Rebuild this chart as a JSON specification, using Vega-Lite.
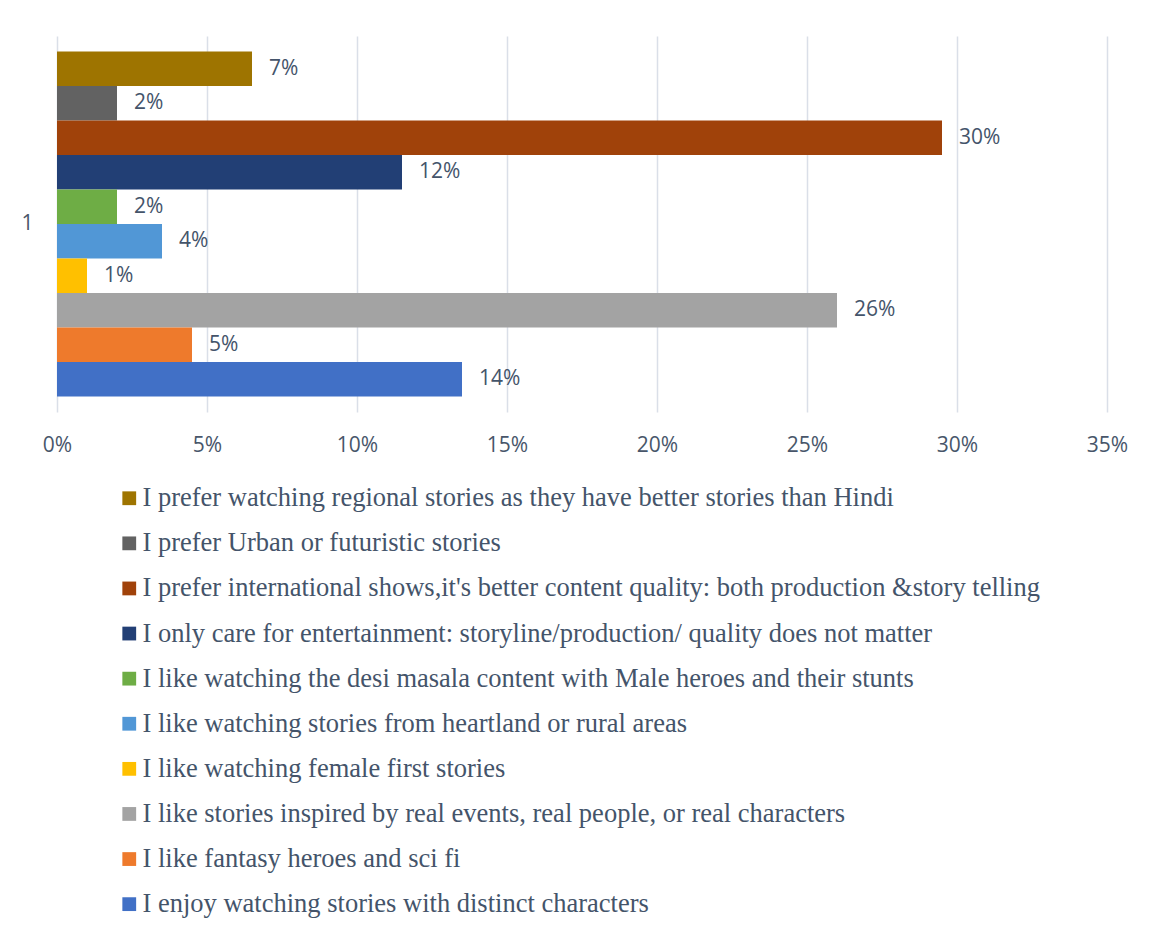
{
  "$schema": "https://vega.github.io/schema/vega-lite/v6.json",
  "width": 1050,
  "height": 376,
  "autosize": {"type": "none"},
  "padding": {"left": 57, "top": 36, "right": 47, "bottom": 525},
  "background": "white",
  "config": {
    "view": {"stroke": null},
    "font": "Open Sans"
  },
  "data": {
    "values": [
      {"group": "1", "reason": "I prefer watching regional stories as they have better stories than Hindi", "share": 0.065, "label": "7%"},
      {"group": "1", "reason": "I prefer Urban or futuristic stories", "share": 0.02, "label": "2%"},
      {"group": "1", "reason": "I prefer international shows,it's  better content quality: both production &story telling", "share": 0.295, "label": "30%"},
      {"group": "1", "reason": "I only care for entertainment: storyline/production/ quality does not matter", "share": 0.115, "label": "12%"},
      {"group": "1", "reason": "I like watching the desi masala content with Male heroes and their stunts", "share": 0.02, "label": "2%"},
      {"group": "1", "reason": "I like watching stories from heartland or rural areas", "share": 0.035, "label": "4%"},
      {"group": "1", "reason": "I like watching female first stories", "share": 0.01, "label": "1%"},
      {"group": "1", "reason": "I like stories inspired by real events, real people, or real characters", "share": 0.26, "label": "26%"},
      {"group": "1", "reason": "I like fantasy heroes and sci fi", "share": 0.045, "label": "5%"},
      {"group": "1", "reason": "I enjoy watching stories with distinct characters", "share": 0.135, "label": "14%"}
    ]
  },
  "encoding": {
    "y": {
      "field": "group",
      "type": "nominal",
      "scale": {"paddingOuter": 0.045, "paddingInner": 0},
      "axis": {
        "title": null,
        "domain": false,
        "ticks": false,
        "grid": false,
        "labelPadding": 24,
        "labelFontSize": 21,
        "labelFont": "Open Sans",
        "labelColor": "#48566A"
      }
    },
    "yOffset": {
      "field": "reason",
      "type": "nominal",
      "scale": {
        "domain": [
          "I prefer watching regional stories as they have better stories than Hindi",
          "I prefer Urban or futuristic stories",
          "I prefer international shows,it's  better content quality: both production &story telling",
          "I only care for entertainment: storyline/production/ quality does not matter",
          "I like watching the desi masala content with Male heroes and their stunts",
          "I like watching stories from heartland or rural areas",
          "I like watching female first stories",
          "I like stories inspired by real events, real people, or real characters",
          "I like fantasy heroes and sci fi",
          "I enjoy watching stories with distinct characters"
        ],
        "paddingInner": 0,
        "paddingOuter": 0
      }
    },
    "x": {
      "field": "share",
      "type": "quantitative",
      "scale": {"domain": [0, 0.35], "nice": false},
      "axis": {
        "title": null,
        "format": ".0%",
        "values": [0, 0.05, 0.1, 0.15, 0.2, 0.25, 0.3, 0.35],
        "domain": false,
        "ticks": false,
        "grid": true,
        "gridColor": "#DADFE8",
        "gridWidth": 1.5,
        "labelFlush": false,
        "labelPadding": 22,
        "labelFontSize": 21,
        "labelFont": "Open Sans",
        "labelColor": "#48566A"
      }
    }
  },
  "layer": [
    {
      "mark": {"type": "bar"},
      "encoding": {
        "color": {
          "field": "reason",
          "type": "nominal",
          "scale": {
            "domain": [
              "I prefer watching regional stories as they have better stories than Hindi",
              "I prefer Urban or futuristic stories",
              "I prefer international shows,it's  better content quality: both production &story telling",
              "I only care for entertainment: storyline/production/ quality does not matter",
              "I like watching the desi masala content with Male heroes and their stunts",
              "I like watching stories from heartland or rural areas",
              "I like watching female first stories",
              "I like stories inspired by real events, real people, or real characters",
              "I like fantasy heroes and sci fi",
              "I enjoy watching stories with distinct characters"
            ],
            "range": ["#9E7400", "#626262", "#A0420A", "#223F75", "#6EAD45", "#5197D6", "#FFC000", "#A3A3A3", "#EE7A2C", "#4170C6"]
          },
          "legend": {
            "title": null,
            "orient": "none",
            "legendX": 59,
            "legendY": 449,
            "direction": "vertical",
            "columns": 1,
            "padding": 0,
            "symbolType": "square",
            "symbolSize": 190,
            "symbolStrokeWidth": 0,
            "labelFont": "Liberation Serif",
            "labelFontSize": 26.5,
            "labelColor": "#44546A",
            "labelLimit": 1200,
            "labelOffset": 0,
            "rowPadding": 18.1
          }
        }
      }
    },
    {
      "mark": {
        "type": "text",
        "align": "left",
        "baseline": "middle",
        "dx": 17,
        "font": "Open Sans",
        "fontSize": 21,
        "color": "#44546A"
      },
      "encoding": {
        "text": {"field": "label", "type": "nominal"}
      }
    }
  ]
}
